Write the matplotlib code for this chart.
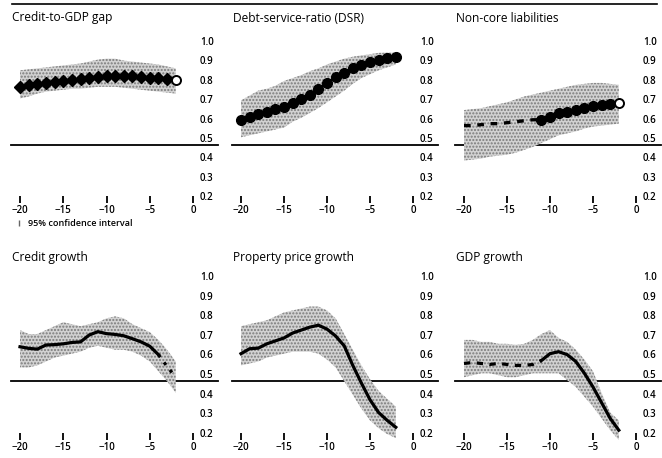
import matplotlib
matplotlib.use("Agg")
import matplotlib.pyplot as plt
from matplotlib.lines import Line2D
import numpy as np

plt.rcParams['font.family'] = ['Open Sans', 'DejaVu Sans']

# quarters before the crisis
quarters = np.arange(-20, -1)

titles = ["Credit-to-GDP gap", "Debt-service-ratio (DSR)", "Non-core liabilities",
          "Credit growth", "Property price growth", "GDP growth"]

# AUC and 95% confidence bands
gap_auc = [0.800, 0.809, 0.814, 0.821, 0.826, 0.830, 0.835, 0.839, 0.844, 0.849,
           0.854, 0.857, 0.857, 0.855, 0.850, 0.847, 0.844, 0.840, 0.835]
gap_lo = [0.74, 0.75, 0.765, 0.775, 0.78, 0.785, 0.79, 0.79, 0.795, 0.80,
          0.80, 0.80, 0.795, 0.79, 0.785, 0.78, 0.775, 0.77, 0.765]
gap_hi = [0.885, 0.89, 0.895, 0.90, 0.905, 0.91, 0.915, 0.92, 0.93, 0.94,
          0.945, 0.945, 0.935, 0.93, 0.925, 0.92, 0.915, 0.905, 0.895]

dsr_auc = [0.629, 0.643, 0.66, 0.672, 0.686, 0.697, 0.715, 0.735, 0.76, 0.79,
           0.82, 0.85, 0.87, 0.895, 0.91, 0.93, 0.94, 0.95, 0.955]
dsr_lo = [0.54, 0.55, 0.56, 0.57, 0.58, 0.59, 0.62, 0.64, 0.665, 0.69,
          0.72, 0.75, 0.78, 0.815, 0.845, 0.865, 0.885, 0.90, 0.915]
dsr_hi = [0.73, 0.755, 0.78, 0.79, 0.805, 0.83, 0.845, 0.86, 0.88, 0.895,
          0.915, 0.93, 0.945, 0.955, 0.962, 0.968, 0.975, 0.976, 0.976]

ncl_auc = [0.60, 0.60, 0.605, 0.61, 0.61, 0.615, 0.62, 0.625, 0.63, 0.63,
           0.646, 0.663, 0.67, 0.68, 0.69, 0.70, 0.706, 0.71, 0.715]
ncl_lo = [0.42, 0.425, 0.43, 0.44, 0.445, 0.45, 0.46, 0.475, 0.49, 0.51,
          0.53, 0.55, 0.56, 0.57, 0.585, 0.595, 0.60, 0.605, 0.61]
ncl_hi = [0.68, 0.685, 0.69, 0.70, 0.71, 0.72, 0.735, 0.75, 0.76, 0.77,
          0.78, 0.79, 0.80, 0.81, 0.815, 0.82, 0.82, 0.815, 0.81]

cg_auc = [0.675, 0.667, 0.663, 0.684, 0.686, 0.69, 0.697, 0.70, 0.735, 0.752,
          0.742, 0.738, 0.731, 0.716, 0.70, 0.678, 0.635, 0.575, 0.52]
cg_lo = [0.57, 0.57, 0.58, 0.60, 0.62, 0.63, 0.64, 0.65, 0.67, 0.68,
         0.67, 0.66, 0.66, 0.65, 0.63, 0.60, 0.55, 0.50, 0.44]
cg_hi = [0.76, 0.74, 0.74, 0.76, 0.78, 0.80, 0.79, 0.78, 0.79, 0.80,
         0.82, 0.83, 0.82, 0.79, 0.77, 0.75, 0.71, 0.66, 0.60]

pp_auc = [0.64, 0.665, 0.668, 0.69, 0.705, 0.72, 0.745, 0.76, 0.775, 0.785,
          0.765, 0.73, 0.68, 0.58, 0.49, 0.405, 0.34, 0.30, 0.265]
pp_lo = [0.58, 0.59, 0.60, 0.62, 0.63, 0.64, 0.65, 0.65, 0.65, 0.64,
         0.61, 0.57, 0.50, 0.43, 0.36, 0.30, 0.26, 0.23, 0.21]
pp_hi = [0.78, 0.79, 0.80, 0.81, 0.83, 0.85, 0.86, 0.87, 0.88, 0.88,
         0.86, 0.82, 0.74, 0.66, 0.58, 0.51, 0.45, 0.41, 0.37]

gdp_auc = [0.59, 0.595, 0.59, 0.585, 0.59, 0.585, 0.58, 0.58, 0.585, 0.605,
           0.64, 0.65, 0.635, 0.60, 0.54, 0.47, 0.39, 0.31, 0.25]
gdp_lo = [0.52, 0.53, 0.54, 0.54, 0.53, 0.52, 0.52, 0.53, 0.54, 0.54,
          0.54, 0.54, 0.505, 0.47, 0.42, 0.37, 0.31, 0.25, 0.20]
gdp_hi = [0.71, 0.71, 0.70, 0.70, 0.69, 0.69, 0.685, 0.69, 0.71, 0.74,
          0.76, 0.72, 0.70, 0.66, 0.61, 0.55, 0.44, 0.34, 0.30]

xticks = [-20, -15, -10, -5, 0]
yticks = [0.2, 0.3, 0.4, 0.5, 0.6, 0.7, 0.8, 0.9, 1.0]

W, H = 662, 458
fig = plt.figure(figsize=(W / 100, H / 100), dpi=100)

# pixel positions of x=-20 / x=0 per column, y=0.2 / y=1.0 per row
cols = [(20, 193), (241, 413), (464, 636)]
rows = [(203.2, 48), (440, 283)]
title_y = [18, 257]


def make_ax(i):
    r, c = divmod(i, 3)
    x20, x0 = cols[c]
    ppu = (x0 - x20) / 20
    left = x20 - 1.5 * ppu
    right = x0 + 0.5 * ppu
    y02, y10 = rows[r]
    ax = fig.add_axes([left / W, 1 - y02 / H, (right - left) / W, (y02 - y10) / H])
    ax.set_xlim(-21.5, 0.5)
    ax.set_ylim(0.2, 1.0)
    for s in ax.spines.values():
        s.set_visible(False)
    ax.yaxis.tick_right()
    ax.set_yticks(yticks)
    ax.set_yticklabels(["%.1f" % v for v in yticks])
    for lab in ax.get_yticklabels():
        lab.set_verticalalignment('bottom')
        lab.set_fontweight('semibold')
    ax.tick_params(axis='y', length=0, pad=2, labelsize=7)
    ax.set_xticks(xticks)
    ax.tick_params(axis='x', direction='in', length=5, width=1.3, pad=1.5, labelsize=7)
    for lab in ax.get_xticklabels():
        lab.set_fontweight('semibold')
    # 0.5 reference line, reaching under the labels
    w = right - left
    ax.axhline(0.5, xmin=(x20 - 9 - left) / w, xmax=(x0 + 25 - left) / w,
               color='k', lw=1.3, clip_on=False, zorder=1)
    fig.text((x20 - 8) / W, 1 - title_y[r] / H, titles[i], fontsize=8.6,
             va='center', ha='left')
    return ax


def band(ax, lo, hi):
    ax.fill_between(quarters, lo, hi, facecolor='#d2d2d2', edgecolor='#7a7a7a',
                    hatch='.....', linewidth=0, zorder=2)


axes = [make_ax(i) for i in range(6)]

# Credit-to-GDP gap
ax = axes[0]
band(ax, gap_lo, gap_hi)
ax.plot(quarters, gap_auc, color='k', lw=1.3, zorder=3)
ax.plot(quarters[:-1], gap_auc[:-1], ls='none', marker='D', ms=6, color='k', zorder=4)
ax.plot(quarters[-1:], gap_auc[-1:], ls='none', marker='o', ms=6.5, mfc='white',
        mec='k', mew=1.4, zorder=4)

# DSR
ax = axes[1]
band(ax, dsr_lo, dsr_hi)
ax.plot(quarters, dsr_auc, color='k', lw=1.3, marker='o', ms=7, zorder=3)

# Non-core liabilities
ax = axes[2]
band(ax, ncl_lo, ncl_hi)
ax.plot(quarters[:10], ncl_auc[:10], color='k', lw=2.4, ls=(0, (2, 2)), zorder=3)
ax.plot(quarters[9:], ncl_auc[9:], color='k', lw=1.3, zorder=3)
ax.plot(quarters[9:-1], ncl_auc[9:-1], ls='none', marker='o', ms=7, color='k', zorder=4)
ax.plot(quarters[-1:], ncl_auc[-1:], ls='none', marker='o', ms=6.5, mfc='white',
        mec='k', mew=1.4, zorder=4)

# Credit growth
ax = axes[3]
band(ax, cg_lo, cg_hi)
ax.plot(quarters[:17], cg_auc[:17], color='k', lw=2.3, zorder=3)
ax.plot(quarters[16:], cg_auc[16:], color='k', lw=2.3, ls=(0, (1, 2)), zorder=3)

# Property price growth
ax = axes[4]
band(ax, pp_lo, pp_hi)
ax.plot(quarters, pp_auc, color='k', lw=2.3, zorder=3)

# GDP growth
ax = axes[5]
band(ax, gdp_lo, gdp_hi)
ax.plot(quarters[:10], gdp_auc[:10], color='k', lw=2.3, ls=(0, (2, 2)), zorder=3)
ax.plot(quarters[9:], gdp_auc[9:], color='k', lw=2.3, zorder=3)

# legend under first panel
handle = Line2D([], [], ls='none', marker='|', ms=5, mew=1, color='#666666')
fig.legend([handle], ["95% confidence interval"], loc='center left',
           bbox_to_anchor=(14 / W, 1 - 224 / H), frameon=False,
           prop={'size': 6.5, 'weight': 'semibold'},
           handlelength=1.2, handletextpad=0.4, borderpad=0, borderaxespad=0)

# top rule
fig.add_artist(Line2D([12 / W, 657 / W], [1 - 4 / H, 1 - 4 / H], color='k', lw=1.2))

fig.savefig("out.png", dpi=100)
